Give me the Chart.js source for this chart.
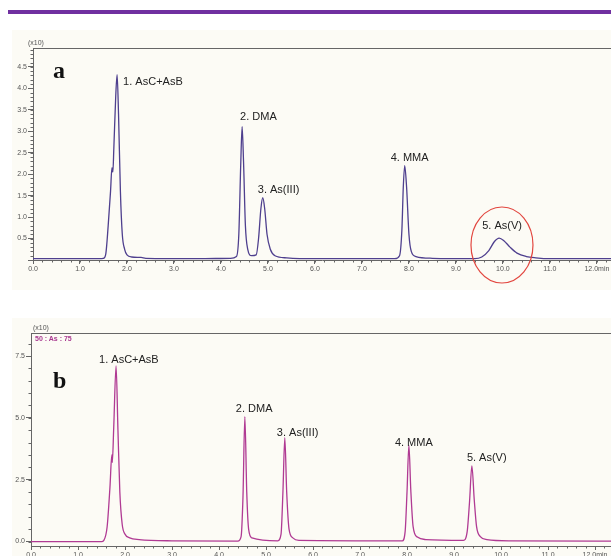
<!DOCTYPE html>
<html>
<head>
<meta charset="utf-8">
<script src="https://cdn.jsdelivr.net/npm/chart.js@4.4.0/dist/chart.umd.min.js"></script>
<style>
  body { margin: 0; background: #fff; width: 611px; height: 556px; overflow: hidden; position: relative; font-family: "Liberation Sans", Arial, sans-serif; }
  .bar { position: absolute; left: 8px; top: 10px; width: 603px; height: 4px; background: #7030a0; }
  .panel { position: absolute; left: 12px; width: 599px; background: #fcfbf5; }
  canvas { position: absolute; left: 0; }
  .unit { position: absolute; font-size: 7px; color: #555; }
  .tag { position: absolute; font-family: "Liberation Serif", "Times New Roman", serif; font-weight: bold; font-size: 24px; color: #111; line-height: 1; }
  .method { position: absolute; font-size: 7px; font-weight: bold; color: #a8388f; }
</style>
</head>
<body>
<div class="bar"></div>
<div class="panel" style="top:30px;height:260px"></div>
<div class="panel" style="top:318px;height:238px"></div>
<canvas id="chartA" width="611" height="260" style="top:30px"></canvas>
<canvas id="chartB" width="611" height="241" style="top:315px"></canvas>
<div class="unit" style="left:28px;top:39px">(x10)</div>
<div class="unit" style="left:33px;top:324px">(x10)</div>
<div class="method" style="left:35px;top:335px">50 : As : 75</div>
<div class="tag" style="left:53px;top:58px">a</div>
<div class="tag" style="left:53px;top:368px">b</div>
<script>
// peak names (same for both runs)
const peakNames = ['1. AsC+AsB', '2. DMA', '3. As(III)', '4. MMA', '5. As(V)'];

// run a - retention time (min) and signal (x10)
const peakTimesA = [1.79, 4.45, 4.89, 7.91, 9.92];
const peakHeightsA = [4.32, 3.11, 1.45, 2.2, 0.51];
const timeA = [0.0, 1.4, 1.5, 1.55, 1.6, 1.65, 1.68, 1.7, 1.72, 1.76, 1.79, 1.82, 1.86, 1.9, 1.95, 2.0, 2.1, 2.3, 2.4, 3.5,
  4.2, 4.33, 4.38, 4.42, 4.45, 4.48, 4.52, 4.57, 4.65, 4.75, 4.8, 4.85, 4.89, 4.93, 4.98, 5.05, 5.15, 5.4, 6.0,
  7.7, 7.8, 7.85, 7.88, 7.91, 7.95, 8.0, 8.05, 8.15, 8.5, 9.4, 9.55, 9.7, 9.82, 9.92, 10.02, 10.15, 10.3, 10.5, 10.7, 11.0, 12.3];
const signalA = [0.03, 0.03, 0.04, 0.15, 0.8, 1.6, 2.15, 2.05, 2.6, 3.8, 4.32, 3.4, 1.6, 0.6, 0.25, 0.12, 0.07, 0.06, 0.04, 0.03,
  0.04, 0.08, 0.6, 2.2, 3.11, 2.3, 0.8, 0.25, 0.1, 0.12, 0.5, 1.2, 1.45, 1.2, 0.6, 0.25, 0.1, 0.05, 0.03,
  0.03, 0.1, 0.7, 1.7, 2.2, 1.7, 0.6, 0.2, 0.08, 0.04, 0.03, 0.07, 0.22, 0.43, 0.51, 0.45, 0.3, 0.16, 0.08, 0.05, 0.03, 0.03];

// run b
const peakTimesB = [1.81, 4.55, 5.4, 8.04, 9.38];
const peakHeightsB = [7.1, 5.05, 4.2, 3.9, 3.06];
const timeB = [0.0, 1.5, 1.55, 1.62, 1.68, 1.72, 1.73, 1.76, 1.81, 1.85, 1.89, 1.94, 2.0, 2.1, 2.3, 3.0,
  4.4, 4.47, 4.51, 4.55, 4.59, 4.63, 4.7, 5.25, 5.32, 5.36, 5.4, 5.44, 5.49, 5.57, 5.7,
  7.9, 7.96, 8.0, 8.04, 8.08, 8.13, 8.22, 8.4, 9.2, 9.28, 9.33, 9.38, 9.43, 9.48, 9.56, 9.7, 10.2, 12.4];
const signalB = [0.0, 0.0, 0.05, 0.6, 2.2, 3.5, 3.2, 4.6, 7.1, 4.5, 2.0, 0.7, 0.3, 0.15, 0.08, 0.03,
  0.02, 0.2, 1.8, 5.05, 2.0, 0.5, 0.15, 0.03, 0.3, 2.0, 4.2, 2.0, 0.5, 0.15, 0.05,
  0.03, 0.4, 2.0, 3.9, 2.1, 0.6, 0.18, 0.08, 0.05, 0.4, 1.6, 3.06, 1.7, 0.6, 0.2, 0.08, 0.03, 0.02];

const GRAY = '#666';

// small ticks between the labelled ones, and the top frame line
const framePlugin = {
  id: 'frame',
  afterDraw(chart, args, opts) {
    const ctx = chart.ctx;
    const x = chart.scales.x;
    const y = chart.scales.y;
    const area = chart.chartArea;
    ctx.save();
    ctx.strokeStyle = GRAY;
    ctx.lineWidth = 1;
    ctx.beginPath();
    ctx.moveTo(area.left, Math.round(area.top) + 0.5);
    ctx.lineTo(area.right, Math.round(area.top) + 0.5);
    const nx = Math.floor(x.max / opts.xStep);
    for (let i = 1; i <= nx; i++) {
      const px = Math.round(x.getPixelForValue(i * opts.xStep)) + 0.5;
      ctx.moveTo(px, area.bottom);
      ctx.lineTo(px, area.bottom + 2.5);
    }
    const ny0 = Math.ceil(y.min / opts.yStep);
    const ny1 = Math.floor(y.max / opts.yStep);
    for (let i = ny0; i <= ny1; i++) {
      const py = Math.round(y.getPixelForValue(i * opts.yStep)) + 0.5;
      ctx.moveTo(area.left, py);
      ctx.lineTo(area.left - 2.5, py);
    }
    ctx.stroke();

    // peak names next to each apex
    ctx.fillStyle = '#222';
    ctx.font = '11px "Liberation Sans", Arial, sans-serif';
    ctx.textAlign = 'left';
    ctx.textBaseline = 'middle';
    opts.names.forEach((name, i) => {
      const px = x.getPixelForValue(opts.times[i]) + opts.offsets[i][0];
      const py = y.getPixelForValue(opts.heights[i]) + opts.offsets[i][1];
      ctx.fillText(name, px, py);
    });

    if (opts.ring) {
      const cx = x.getPixelForValue(opts.ring.t);
      const cy = y.getPixelForValue(opts.ring.v);
      ctx.strokeStyle = '#e2463f';
      ctx.lineWidth = 1.2;
      ctx.beginPath();
      ctx.ellipse(cx, cy, opts.ring.rx, opts.ring.ry, 0, 0, Math.PI * 2);
      ctx.stroke();
    }
    ctx.restore();
  }
};

function createTraceChart(canvasId, times, signal, color, cfg) {
    const ctx = document.getElementById(canvasId).getContext('2d');
    const points = times.map((t, i) => ({ x: t, y: signal[i] }));

    return new Chart(ctx, {
        type: 'line',
        data: {
            datasets: [{
                data: points,
                borderColor: color,
                borderWidth: 1.3,
                pointRadius: 0,
                fill: false,
                cubicInterpolationMode: 'monotone'
            }]
        },
        options: {
            responsive: false,
            animation: false,
            devicePixelRatio: 1,
            layout: { padding: { top: cfg.padTop, right: 0, bottom: 0, left: 0 } },
            plugins: {
                legend: { display: false },
                tooltip: { enabled: false },
                frame: cfg.frame
            },
            scales: {
                x: {
                    type: 'linear',
                    min: 0,
                    max: cfg.xMax,
                    afterFit(scale) {
                        scale.height = cfg.xHeight;
                        scale.paddingLeft = 0;
                        scale.paddingRight = 0;
                    },
                    grid: { drawOnChartArea: false, drawTicks: true, tickLength: 4, color: GRAY },
                    border: { display: true, color: GRAY },
                    ticks: {
                        stepSize: 1,
                        includeBounds: false,
                        autoSkip: false,
                        maxRotation: 0,
                        padding: 1,
                        color: '#555',
                        font: { size: 7, family: '"Liberation Sans", Arial, sans-serif' },
                        callback: v => v === 12 ? '12.0min' : v.toFixed(1)
                    }
                },
                y: {
                    min: cfg.yMin,
                    max: cfg.yMax,
                    afterFit(scale) {
                        scale.width = cfg.yWidth;
                        scale.paddingTop = 0;
                        scale.paddingBottom = 0;
                    },
                    grid: { drawOnChartArea: false, drawTicks: true, tickLength: 5, color: GRAY },
                    border: { display: true, color: GRAY },
                    ticks: {
                        stepSize: cfg.yStep,
                        includeBounds: false,
                        padding: 1,
                        color: '#555',
                        font: { size: 7, family: '"Liberation Sans", Arial, sans-serif' },
                        callback: v => (cfg.hideZero && v === 0) ? '' : v.toFixed(1)
                    }
                }
            }
        },
        plugins: [framePlugin]
    });
}

createTraceChart('chartA', timeA, signalA, '#4e3f8e', {
    padTop: 18, xHeight: 30, yWidth: 33, xMax: 12.3, yMin: 0, yMax: 4.94, yStep: 0.5, hideZero: true,
    frame: {
        xStep: 0.2, yStep: 0.1,
        names: peakNames, times: peakTimesA, heights: peakHeightsA,
        offsets: [[6, 7], [-2, -10], [-5, -8], [-14, -8], [-17, -12]],
        ring: { t: 9.98, v: 0.35, rx: 31, ry: 38 }
    }
});

createTraceChart('chartB', timeB, signalB, '#b03a93', {
    padTop: 18, xHeight: 10, yWidth: 31, xMax: 12.34, yMin: -0.18, yMax: 8.43, yStep: 2.5, hideZero: false,
    frame: {
        xStep: 0.2, yStep: 0.5,
        names: peakNames, times: peakTimesB, heights: peakHeightsB,
        offsets: [[-17, -6], [-9, -8], [-8, -5], [-14, -2], [-5, -8]]
    }
});
</script>
</body>
</html>
